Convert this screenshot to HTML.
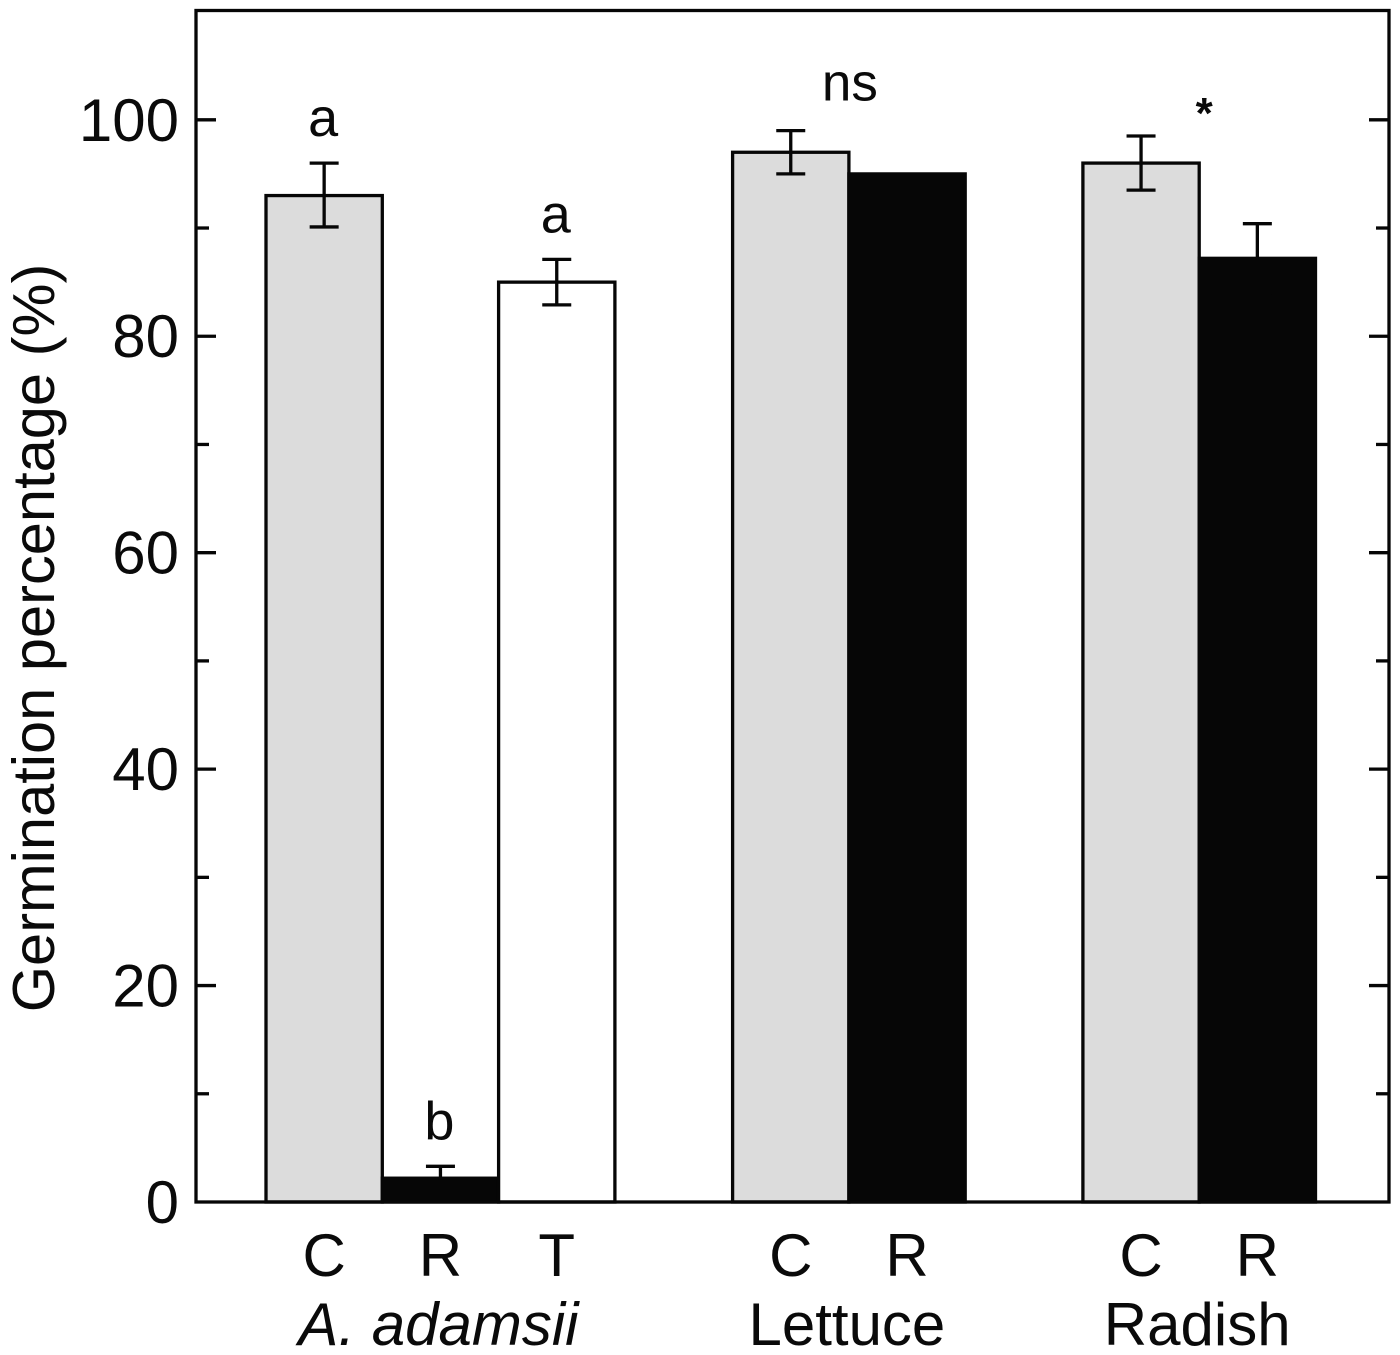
<!DOCTYPE html>
<html lang="en">
<head>
<meta charset="utf-8">
<title>Germination percentage chart</title>
<style>
html,body{margin:0;padding:0;background:#fff;width:1400px;height:1355px;overflow:hidden}
svg{display:block}
text{font-family:"Liberation Sans",Arial,sans-serif;fill:#0a0a0a}
</style>
</head>
<body>
<svg id="chart" xmlns="http://www.w3.org/2000/svg" width="1400" height="1355" viewBox="0 0 1400 1355">
  <text transform="translate(54,638) rotate(-90)" text-anchor="middle" font-size="59.6">Germination percentage (%)</text>
</svg>
<script>
const groupNames = ['A. adamsii', 'Lettuce', 'Radish'];
const categories = ['C', 'R', 'T', 'C', 'R', 'C', 'R'];
const categoryGroups = [0, 0, 0, 1, 1, 2, 2];
const germination = [93, 2.2, 85, 97, 95, 96, 87.2];
const errorUp = [3, 1.1, 2.1, 2, 0, 2.5, 3.2];
const errorDown = [2.9, 1.1, 2.1, 2, 0, 2.5, 3.2];
const barLetters = ['a', 'b', 'a', '', '', '', ''];
const groupMarks = ['', 'ns', '*'];
const majorTicks = [0, 20, 40, 60, 80, 100];
const minorTicks = [10, 30, 50, 70, 90];

const svg = document.getElementById('chart');
const NS = 'http://www.w3.org/2000/svg';
const plot = { left: 196, right: 1389, top: 10.5, bottom: 1202 };
const yMax = 110.1;
const bandStart = 266;
const bandWidth = 116.3;
const groupGap = 117.7;
const INK = '#060606';
const LINE = 3.3;

function y(value) {
  return plot.bottom - (value / yMax) * (plot.bottom - plot.top);
}
function xLeft(index) {
  let x = bandStart + index * bandWidth;
  for (let i = 1; i <= index; i++) {
    if (categoryGroups[i] !== categoryGroups[i - 1]) x += groupGap;
  }
  return x;
}
function xCenter(index) {
  return xLeft(index) + bandWidth / 2;
}
function groupCenter(group) {
  const members = categories.map((_, i) => i).filter(i => categoryGroups[i] === group);
  return (xLeft(members[0]) + xLeft(members[members.length - 1]) + bandWidth) / 2;
}
function make(tag, attrs, text) {
  const el = document.createElementNS(NS, tag);
  for (const k in attrs) el.setAttribute(k, attrs[k]);
  if (text !== undefined) el.textContent = text;
  svg.appendChild(el);
  return el;
}
function seg(x1, y1, x2, y2) {
  return make('line', { x1, y1, x2, y2, stroke: INK, 'stroke-width': LINE });
}

/* bars */
categories.forEach((cat, i) => {
  const top = y(germination[i]);
  const fill = cat === 'C' ? '#dcdcdc' : cat === 'R' ? INK : '#ffffff';
  const bar = make('rect', {
    x: xLeft(i), y: top, width: bandWidth, height: plot.bottom - top,
    fill, stroke: INK, 'stroke-width': LINE
  });
  
  
});

/* error bars */
categories.forEach((cat, i) => {
  if (errorUp[i] === 0 && errorDown[i] === 0) return;
  const cx = xCenter(i);
  const hi = y(germination[i] + errorUp[i]);
  const lo = y(germination[i] - errorDown[i]);
  const stem = seg(cx, hi, cx, lo);
  
  
  const capTop = seg(cx - 14.5, hi, cx + 14.5, hi);
  
  
  const capBottom = seg(cx - 14.5, lo, cx + 14.5, lo);
  
  
});

/* frame */
const frame = make('rect', {
  x: plot.left, y: plot.top, width: plot.right - plot.left, height: plot.bottom - plot.top,
  fill: 'none', stroke: INK, 'stroke-width': LINE
});



/* ticks */
majorTicks.forEach(v => {
  if (v !== 0) {
    const left = seg(plot.left, y(v), plot.left + 20, y(v));
    
    
    const right = seg(plot.right - 20, y(v), plot.right, y(v));
    
    
  }
  const label = make('text', { x: 179, y: y(v) + 21, 'text-anchor': 'end', 'font-size': 60 }, String(v));
  
  
});
minorTicks.forEach(v => {
  const left = seg(plot.left, y(v), plot.left + 13, y(v));
  
  
  const right = seg(plot.right - 13, y(v), plot.right, y(v));
  
  
});

/* category labels */
categories.forEach((cat, i) => {
  const label = make('text', { x: xCenter(i), y: 1276, 'text-anchor': 'middle', 'font-size': 60 }, cat);
  
  
});

/* group labels */
groupNames.forEach((name, g) => {
  const attrs = { x: groupCenter(g) - 2, y: 1345, 'text-anchor': 'middle', 'font-size': 60 };
  if (g === 0) attrs['font-style'] = 'italic';
  const label = make('text', attrs, name);
  
  
});

/* per-bar significance letters */
barLetters.forEach((letter, i) => {
  if (!letter) return;
  const label = make('text', {
    x: xCenter(i) - 1, y: y(germination[i] + errorUp[i]) - 27, 'text-anchor': 'middle', 'font-size': 54
  }, letter);
  
  
});

/* per-group significance marks */
groupMarks.forEach((mark, g) => {
  if (!mark) return;
  const tops = germination.map((v, i) => categoryGroups[i] === g ? v + errorUp[i] : -1);
  const peak = y(Math.max(...tops));
  const star = mark === '*';
  const label = make('text', {
    x: groupCenter(g) + (star ? 5 : 1),
    y: star ? peak - 8 : peak - 30,
    'text-anchor': 'middle',
    'font-size': star ? 44 : 53,
    'font-weight': star ? 'bold' : 'normal'
  }, mark);
  
  
});
</script>
</body>
</html>
